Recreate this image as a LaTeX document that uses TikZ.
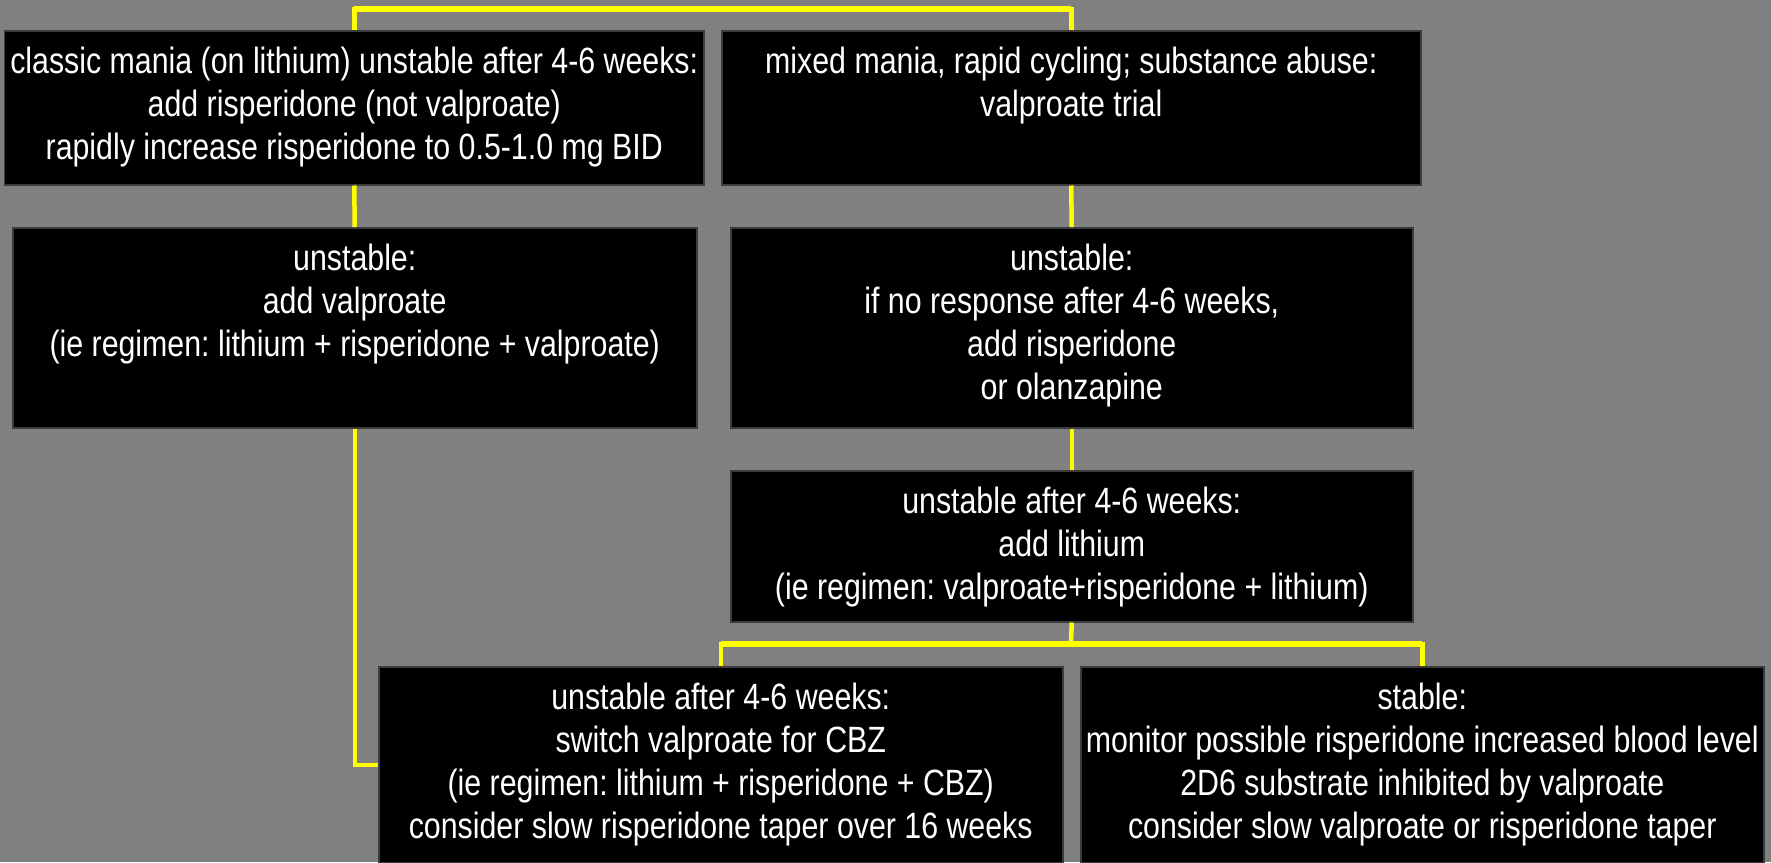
\documentclass[tikz,border=0pt]{standalone}
\usepackage{fontspec}
\setmainfont[FakeStretch=0.83]{Liberation Sans}
\usepackage{tikz}

\definecolor{bggray}{RGB}{128,128,128}
\definecolor{boxedge}{RGB}{60,60,60}
\definecolor{linkyellow}{RGB}{255,255,0}
\newcommand{\steptext}[3]{\parbox[c][#2][t]{#1}{\centering\frenchspacing\rule{0pt}{4.3mm}#3\par}}

\tikzset{
  stepbox/.style={fill=black, draw=boxedge, line width=0.15mm, text=white,
    inner sep=0pt, anchor=north west, font=\fontsize{10.4pt}{12.2pt}\selectfont},
  link/.style={draw=linkyellow, line width=0.45mm},
  bar/.style={draw=linkyellow, line width=0.67mm},
}

\begin{document}
\begin{tikzpicture}[x=0.1mm,y=-0.1mm]
\fill[bggray] (0,0) rectangle (1771,862);
\useasboundingbox (0,0) rectangle (1771,862);
% first row
\node[stepbox] (classic) at (4,30) {\steptext{69.9mm}{15.4mm}{classic mania (on lithium) unstable after 4-6 weeks:\\add risperidone (not valproate)\\rapidly increase risperidone to 0.5-1.0 mg BID}};
\node[stepbox] (mixed) at (721,30) {\steptext{69.9mm}{15.4mm}{mixed mania, rapid cycling; substance abuse:\\valproate trial}};
% second row
\node[stepbox] (unstL) at (12,227) {\steptext{68.4mm}{20mm}{unstable:\\add valproate\\(ie regimen: lithium + risperidone + valproate)}};
\node[stepbox] (unstR) at (730,227) {\steptext{68.2mm}{20mm}{unstable:\\if no response after 4-6 weeks,\\add risperidone\\or olanzapine}};
% third row
\node[stepbox] (lithium) at (730,470) {\steptext{68.2mm}{15.1mm}{unstable after 4-6 weeks:\\add lithium\\(ie regimen: valproate+risperidone + lithium)}};
% last row
\node[stepbox] (switch) at (378,666) {\steptext{68.4mm}{19.6mm}{unstable after 4-6 weeks:\\switch valproate for CBZ\\(ie regimen: lithium + risperidone + CBZ)\\consider slow risperidone taper over 16 weeks}};
\node[stepbox] (stable) at (1080,666) {\steptext{68.3mm}{19.6mm}{stable:\\monitor possible risperidone increased blood level\\2D6 substrate inhibited by valproate\\consider slow valproate or risperidone taper}};
% connectors
\coordinate (root) at (712,9);
\draw[link] (classic.north) |- (root) -| (mixed.north);
\draw[bar] (classic.north |- root) -- (mixed.north |- root);
\draw[link] (classic.south) -- (unstL.north);
\draw[link] (mixed.south) -- (unstR.north);
\draw[link] (unstR.south) -- (lithium.north);
\draw[link] (unstL.south) |- (switch.west);
\coordinate (split) at (1071,644);
\draw[link] (lithium.south) -- (split);
\draw[link] (switch.north) |- (split) -| (stable.north);
\draw[bar] (switch.north |- split) -- (stable.north |- split);
\end{tikzpicture}
\end{document}
